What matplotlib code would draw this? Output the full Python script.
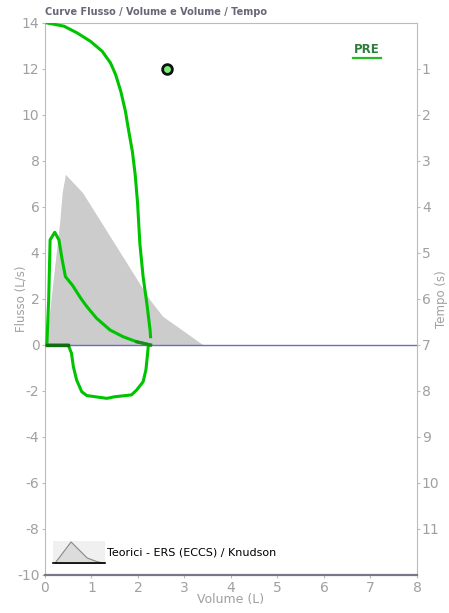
import numpy as np
import matplotlib
matplotlib.use("Agg")
import matplotlib.pyplot as plt
from matplotlib.legend_handler import HandlerBase
from matplotlib.patches import Polygon, Rectangle
from matplotlib.lines import Line2D

plt.rcParams["axes.unicode_minus"] = False

# predicted (theoretical) flow-volume area
pred_vol = [0.03, 0.33, 0.38, 0.45, 0.82, 2.26, 2.54, 3.40]
pred_flow = [0.0, 5.4, 6.6, 7.4, 6.6, 1.96, 1.23, 0.0]

# measured expiratory flow-volume
exp_vol = [0.04, 0.08, 0.11, 0.21, 0.30, 0.37, 0.44, 0.59, 0.77, 0.90, 1.11, 1.40, 1.68, 1.97, 2.19, 2.27]
exp_flow = [0.0, 2.0, 4.57, 4.90, 4.57, 3.70, 2.97, 2.60, 2.03, 1.67, 1.16, 0.65, 0.36, 0.14, 0.04, 0.0]

# measured inspiratory flow-volume
insp_vol = [0.04, 0.50, 0.57, 0.61, 0.68, 0.79, 0.90, 1.33, 1.50, 1.86, 1.97, 2.11, 2.17, 2.20, 2.22]
insp_flow = [0.0, 0.0, -0.36, -0.94, -1.52, -2.03, -2.20, -2.32, -2.25, -2.17, -1.96, -1.60, -1.09, -0.51, -0.07]

# volume-time curve
vt_vol = [0.05, 0.41, 0.69, 0.98, 1.23, 1.41, 1.52, 1.63, 1.73, 1.79, 1.88, 1.94, 1.99, 2.04, 2.11, 2.19, 2.26, 2.27]
vt_time = [0.0, 0.07, 0.215, 0.40, 0.615, 0.87, 1.125, 1.485, 1.92, 2.285, 2.80, 3.30, 3.90, 4.79, 5.515, 6.095, 6.675, 6.82]

marker_vol, marker_flow = 2.62, 12.0

title = "Curve Flusso / Volume e Volume / Tempo"
legend_label = "Teorici - ERS (ECCS) / Knudson"

GRAY = "#a0a0a0"
GREEN = "#00c400"


class PeakHandler(HandlerBase):
    def create_artists(self, legend, orig_handle, xdescent, ydescent,
                       width, height, fontsize, trans):
        x0, y0 = -xdescent, -ydescent
        bg = Rectangle((x0, y0), width, height, facecolor="#f0f0f0",
                       edgecolor="none", transform=trans)
        shape = [(0.04, 0.0), (0.35, 1.0), (0.66, 0.25), (0.85, 0.08), (1.0, 0.0)]
        pts = [(x0 + sx * width, y0 + sy * height * 0.95) for sx, sy in shape]
        poly = Polygon(pts, closed=True, facecolor="#dcdcdc", edgecolor="#888888",
                       lw=0.8, transform=trans)
        base = Line2D([x0, x0 + width], [y0, y0], color="black", lw=1.2, transform=trans)
        return [bg, poly, base]


fig = plt.figure(figsize=(4.49, 6.13), dpi=100)
ax = fig.add_axes([0.1002, 0.0620, 0.8285, 0.9005])

ax.fill(pred_vol, pred_flow, facecolor="#cccccc", edgecolor="none", zorder=1)
ax.axhline(0, color="#6a6acf", lw=1.0, zorder=2)
ax.plot(exp_vol, exp_flow, color=GREEN, lw=2.2, zorder=3, solid_joinstyle="round")
ax.plot(insp_vol, insp_flow, color=GREEN, lw=2.2, zorder=3, solid_joinstyle="round")
ax.plot(insp_vol[:2], insp_flow[:2], color="#0d6f0d", lw=2.4, zorder=4)
ax.plot(exp_vol[-3:], exp_flow[-3:], color="#1a8a1a", lw=2.2, zorder=4)
ax.plot([marker_vol], [marker_flow], "o", markersize=7, markerfacecolor="#77ee77",
        markeredgecolor="#111111", markeredgewidth=2, zorder=6)

ax.set_xlim(0, 8)
ax.set_ylim(-10, 14)
ax.set_xticks(range(0, 9))
ax.set_yticks(range(-10, 15, 2))
ax.tick_params(axis="both", colors="#bbbbbb", labelcolor=GRAY, labelsize=10,
               length=2, pad=2)
ax.set_xlabel("Volume (L)", color=GRAY, fontsize=9, labelpad=-1)
ax.set_ylabel("Flusso (L/s)", color=GRAY, fontsize=8.5)
ax.yaxis.set_label_coords(-0.046, 0.5)
for side in ["left", "right", "top"]:
    ax.spines[side].set_color("#bbbbbb")
ax.spines["bottom"].set_color("#777788")
ax.spines["bottom"].set_linewidth(1.6)

ax.legend([Rectangle((0, 0), 1, 1)], [legend_label],
          handler_map={Rectangle: PeakHandler()}, loc="lower left",
          frameon=False, fontsize=8, handlelength=4.7, handleheight=2.75,
          handletextpad=0.15, borderpad=0.0, borderaxespad=0.0,
          bbox_to_anchor=(0.021, 0.021))

ax2 = ax.twinx()
ax2.plot(vt_vol, vt_time, color=GREEN, lw=2.2, solid_joinstyle="round")
ax2.set_ylim(12, 0)
ax2.set_yticks(range(1, 12))
ax2.tick_params(axis="y", colors="#bbbbbb", labelcolor=GRAY, labelsize=10,
                length=2, pad=1.5)
ax2.set_ylabel("Tempo (s)", color=GRAY, fontsize=8.5)
ax2.yaxis.set_label_coords(1.048, 0.5)
for side in ["left", "right", "top", "bottom"]:
    ax2.spines[side].set_visible(False)

ax.text(0.866, 0.952, "PRE", transform=ax.transAxes, ha="center", va="center",
        color="#2f7d3a", fontsize=8.5, fontweight="bold")
ax.plot([0.829, 0.903], [0.937, 0.937], transform=ax.transAxes, color="#22bb22",
        lw=1.6, clip_on=False)

fig.text(0.1002, 0.98, title, color="#666677", fontsize=7, fontweight="bold",
         ha="left", va="center")

fig.savefig("out.png", dpi=100)
